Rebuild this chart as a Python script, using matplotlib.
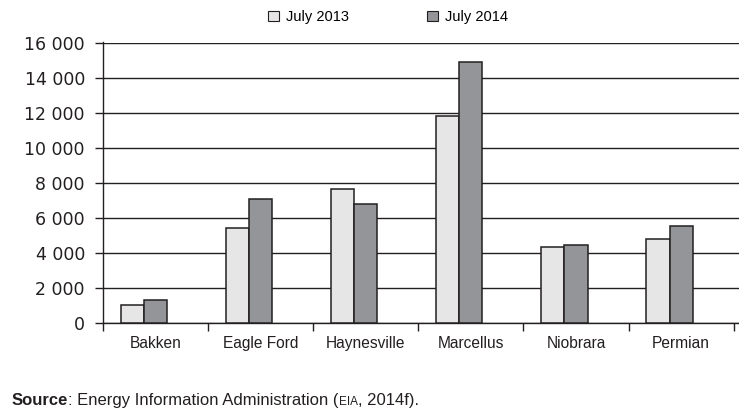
import matplotlib
matplotlib.use("Agg")
import matplotlib.pyplot as plt
import numpy as np
from matplotlib.ticker import FuncFormatter, FixedLocator

categories = ["Bakken", "Eagle Ford", "Haynesville", "Marcellus", "Niobrara", "Permian"]
series_names = ["July 2013", "July 2014"]
values_2013 = [1040, 5450, 7650, 11850, 4350, 4800]
values_2014 = [1320, 7090, 6800, 14950, 4460, 5540]
y_ticks = [0, 2000, 4000, 6000, 8000, 10000, 12000, 14000, 16000]

sans = ["Liberation Sans", "DejaVu Sans"]
ink = "#231f20"

fig = plt.figure(figsize=(7.39, 4.11), dpi=100)
ax = fig.add_axes([103/739, 1 - 323/411, 1 - 103/739, (323 - 43.5)/411])

x = np.arange(len(categories))
w = 0.22
b1 = ax.bar(x - w, values_2013, width=w, align="center", color="#e6e6e6",
            edgecolor=ink, linewidth=1.1, label=series_names[0], zorder=3)
b2 = ax.bar(x, values_2014, width=w, align="center", color="#939598",
            edgecolor=ink, linewidth=1.1, label=series_names[1], zorder=3)

ax.set_xlim(-0.5, 5.55)
ax.set_ylim(0, 16000)
ax.yaxis.set_major_locator(FixedLocator(y_ticks))
ax.yaxis.set_major_formatter(FuncFormatter(lambda v, p: f"{int(v):,}".replace(",", " ")))
ax.grid(axis="y", color=ink, linewidth=1.0, zorder=0)
ax.set_axisbelow(True)

ax.set_xticks(x)
ax.set_xticklabels(categories, fontfamily=sans, fontsize=11.2, color=ink)
ax.set_xticks(np.arange(-0.5, 6.0, 1.0), minor=True)
ax.tick_params(axis="x", which="major", length=0, pad=9)
ax.tick_params(axis="x", which="minor", length=5.5, width=1.0, color=ink, direction="out")
ax.tick_params(axis="y", length=5.5, width=1.0, color=ink, direction="out", pad=7.5,
               labelsize=12.5, labelcolor=ink)
for lab in ax.get_yticklabels():
    lab.set_fontfamily(["DejaVu Sans"])

for s in ["top", "right"]:
    ax.spines[s].set_visible(False)
ax.spines["left"].set_color(ink)
ax.spines["bottom"].set_color(ink)
ax.spines["left"].set_linewidth(1.0)
ax.spines["bottom"].set_linewidth(1.0)
ax.spines["left"].set_bounds(0, 16080)

leg = fig.legend(handles=[b1, b2], labels=series_names, loc="center",
                 bbox_to_anchor=(388/739, 1 - 17/411), ncol=2, frameon=False,
                 prop={"family": sans, "size": 10.5}, handlelength=0.75,
                 handleheight=0.75, columnspacing=5.4, handletextpad=0.45,
                 borderpad=0, borderaxespad=0)
for h in leg.legend_handles:
    h.set_linewidth(0.8)

t1 = fig.text(12/739, 1 - 405/411, "Source", fontfamily=sans, fontsize=12,
              fontweight="bold", color=ink, va="baseline")
t2 = ax.annotate(": Energy Information Administration (", xy=(1, 0), xycoords=t1,
                 fontfamily=sans, fontsize=12, color=ink, va="bottom", ha="left",
                 annotation_clip=False)
t3 = ax.annotate("EIA", xy=(1, 0), xycoords=t2, fontfamily=sans, fontsize=8.5,
                 color=ink, va="bottom", ha="left", annotation_clip=False)
t4 = ax.annotate(", 2014f).", xy=(1, 0), xycoords=t3, fontfamily=sans, fontsize=12,
                 color=ink, va="bottom", ha="left", annotation_clip=False)

fig.savefig("out.png", dpi=100)
